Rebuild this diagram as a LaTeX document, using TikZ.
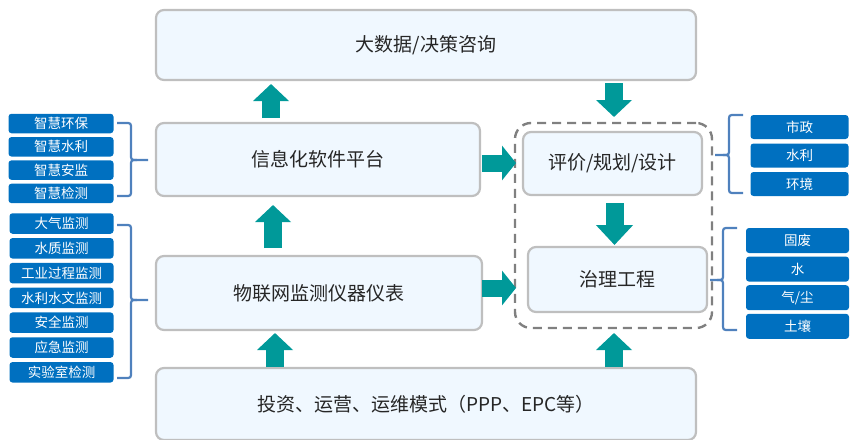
\documentclass[tikz,border=0pt]{standalone}
\usepackage{fontspec}
\setmainfont{Noto Sans CJK SC}
\usetikzlibrary{arrows.meta}
\definecolor{boxgray}{RGB}{191,191,191}
\definecolor{boxfill}{RGB}{240,248,255}
\definecolor{txt}{RGB}{38,38,38}
\definecolor{lblue}{RGB}{0,112,192}
\definecolor{bracec}{RGB}{79,129,189}
\definecolor{arrteal}{RGB}{0,153,153}
\definecolor{dashc}{RGB}{128,128,128}
\begin{document}
\begin{tikzpicture}[x=1pt,y=-1pt,
  mainbox/.style={draw=boxgray, line width=2.2pt, fill=boxfill, rounded corners=8pt,
    font=\fontsize{19}{22}\selectfont, text=txt, inner sep=0pt},
  lbl/.style={fill=lblue, rounded corners=3pt, text=white,
    font=\fontsize{13.5}{15}\selectfont, inner sep=0pt},
  brace/.style={draw=bracec, line width=2.2pt},
  blockup/.style={draw=arrteal, -{Triangle[width=35pt,length=17pt]}, line width=18pt},
  blockright/.style={draw=arrteal, -{Triangle[width=34pt,length=14pt]}, line width=17pt},
]
\useasboundingbox (0,0) rectangle (850,439);
% main boxes
\node[mainbox, minimum width=540pt, minimum height=70pt] (top) at (426,45) {大数据/决策咨询};
\node[mainbox, minimum width=324pt, minimum height=73pt] (info) at (318,159.5) {信息化软件平台};
\node[mainbox, minimum width=326pt, minimum height=74pt] (iot) at (319,293) {物联网监测仪器仪表};
\node[mainbox, minimum width=540pt, minimum height=72pt] (bot) at (426,404) {投资、运营、运维模式（PPP、EPC等）};
\node[draw=dashc, line width=2.4pt, dash pattern=on 9pt off 6pt, rounded corners=16pt,
      minimum width=197pt, minimum height=205pt, inner sep=0pt] (grp) at (613.5,225.5) {};
\node[mainbox, minimum width=179pt, minimum height=63pt] (eval) at (612.5,163.5) {评价/规划/设计};
\node[mainbox, minimum width=179pt, minimum height=65pt] (gov) at (617.5,279.5) {治理工程};
% block arrows
\coordinate (a1s) at (271,118); \coordinate (a1e) at (271,84);
\draw[blockup] (a1s) -- (a1e);
\coordinate (a2s) at (614,83); \coordinate (a2e) at (614,117);
\draw[blockup] (a2s) -- (a2e);
\coordinate (a3s) at (273,248); \coordinate (a3e) at (273,205);
\draw[blockup] (a3s) -- (a3e);
\coordinate (a4s) at (614.5,203); \coordinate (a4e) at (614.5,245);
\draw[blockup, -{Triangle[width=36pt,length=20pt]}] (a4s) -- (a4e);
\coordinate (a5s) at (275,367); \coordinate (a5e) at (275,333);
\draw[blockup] (a5s) -- (a5e);
\coordinate (a6s) at (614,367); \coordinate (a6e) at (614,333);
\draw[blockup] (a6s) -- (a6e);
\coordinate (a7s) at (482,163); \coordinate (a7e) at (516,163);
\draw[blockright] (a7s) -- (a7e);
\coordinate (a8s) at (482,288); \coordinate (a8e) at (516,288);
\draw[blockright] (a8s) -- (a8e);
% left labels group 1
\foreach \t [count=\i] in {智慧环保,智慧水利,智慧安监,智慧检测}{
  \node[lbl, minimum width=105pt, minimum height=19.5pt] (l1\i) at (61,{123.5+23.3*(\i-1)}) {\t};
}
% left labels group 2
\foreach \t [count=\i] in {大气监测,水质监测,工业过程监测,水利水文监测,安全监测,应急监测,实验室检测}{
  \node[lbl, minimum width=104pt, minimum height=20.5pt] (l2\i) at (61.5,{223.5+24.8*(\i-1)}) {\t};
}
% right labels group 1
\foreach \t [count=\i] in {市政,水利,环境}{
  \node[lbl, minimum width=98pt, minimum height=24pt] (r1\i) at (799.5,{127+28.5*(\i-1)}) {\t};
}
% right labels group 2
\foreach \t [count=\i] in {固废,水,气/尘,土壤}{
  \node[lbl, minimum width=103pt, minimum height=25pt] (r2\i) at (797.5,{240.5+28.6*(\i-1)}) {\t};
}
% braces: left groups (pointing right)
\draw[brace] (117,123) -- (125,123) .. controls (131,123) .. (131,129) -- (131,154)
  .. controls (131,160) .. (137,160) -- (148,160);
\draw[brace] (117,196) -- (125,196) .. controls (131,196) .. (131,190) -- (131,166)
  .. controls (131,160) .. (137,160);
\draw[brace] (117,225) -- (125,225) .. controls (131,225) .. (131,231) -- (131,294)
  .. controls (131,300) .. (137,300) -- (148,300);
\draw[brace] (117,378) -- (125,378) .. controls (131,378) .. (131,372) -- (131,306)
  .. controls (131,300) .. (137,300);
% braces: right groups (pointing left)
\draw[brace] (743,115) -- (735,115) .. controls (729,115) .. (729,121) -- (729,149)
  .. controls (729,155) .. (723,155) -- (715,155);
\draw[brace] (743,193) -- (735,193) .. controls (729,193) .. (729,187) -- (729,161)
  .. controls (729,155) .. (723,155);
\draw[brace] (737,228) -- (729,228) .. controls (723,228) .. (723,234) -- (723,274)
  .. controls (723,280) .. (717,280) -- (710,280);
\draw[brace] (737,330) -- (729,330) .. controls (723,330) .. (723,324) -- (723,286)
  .. controls (723,280) .. (717,280);
\end{tikzpicture}
\end{document}
